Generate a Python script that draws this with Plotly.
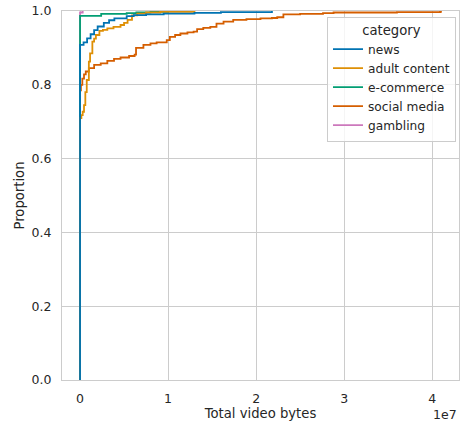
import plotly.graph_objects as go

# Empirical CDF of total video bytes per site category.
# Each list pairs a byte value with the cumulative proportion reached there.
news_bytes = [0, 0, 0.04e7, 0.08e7, 0.12e7, 0.16e7, 0.20e7, 0.27e7, 0.33e7, 0.39e7,
              0.53e7, 0.61e7, 0.75e7, 0.95e7, 1.3e7, 1.6e7, 2.18e7]
news_prop = [0, 0.908, 0.915, 0.926, 0.937, 0.948, 0.958, 0.968, 0.975, 0.980,
             0.986, 0.989, 0.991, 0.993, 0.995, 0.997, 1.0]

adult_bytes = [0, 0, 0.015e7, 0.03e7, 0.045e7, 0.06e7, 0.076e7, 0.10e7, 0.114e7, 0.14e7,
               0.16e7, 0.18e7, 0.22e7, 0.26e7, 0.31e7, 0.38e7, 0.46e7, 0.50e7, 0.54e7,
               0.59e7, 0.65e7, 0.75e7, 0.91e7, 1.3e7]
adult_prop = [0, 0.71, 0.718, 0.727, 0.745, 0.78, 0.813, 0.863, 0.885, 0.917,
              0.925, 0.935, 0.946, 0.949, 0.953, 0.957, 0.962, 0.968, 0.976,
              0.988, 0.993, 0.996, 0.998, 1.0]

ecommerce_bytes = [0, 0, 0.24e7, 0.53e7, 0.64e7, 0.8e7, 1.0e7]
ecommerce_prop = [0, 0.987, 0.992, 0.994, 0.996, 0.998, 1.0]

social_bytes = [0, 0, 0.01e7, 0.026e7, 0.045e7, 0.065e7, 0.10e7, 0.16e7, 0.235e7, 0.31e7,
                0.386e7, 0.46e7, 0.557e7, 0.62e7, 0.636e7, 0.72e7, 0.80e7, 0.87e7, 0.985e7,
                1.02e7, 1.08e7, 1.14e7, 1.22e7, 1.29e7, 1.33e7, 1.40e7, 1.48e7, 1.55e7,
                1.63e7, 1.74e7, 1.89e7, 2.05e7, 2.18e7, 2.24e7, 2.31e7, 2.5e7, 2.76e7,
                2.88e7, 3.6e7, 4.09e7, 4.10e7]
social_prop = [0, 0.785, 0.80, 0.817, 0.828, 0.836, 0.845, 0.854, 0.858, 0.865,
               0.870, 0.874, 0.878, 0.882, 0.900, 0.908, 0.912, 0.915, 0.921,
               0.930, 0.935, 0.939, 0.942, 0.944, 0.951, 0.954, 0.957, 0.966,
               0.971, 0.976, 0.978, 0.980, 0.981, 0.983, 0.991, 0.992, 0.994,
               0.996, 0.997, 0.998, 1.0]

gambling_bytes = [0, 0, 0.03e7]
gambling_prop = [0, 0.996, 1.0]

categories = ["news", "adult content", "e-commerce", "social media", "gambling"]
series = {
    "news": (news_bytes, news_prop),
    "adult content": (adult_bytes, adult_prop),
    "e-commerce": (ecommerce_bytes, ecommerce_prop),
    "social media": (social_bytes, social_prop),
    "gambling": (gambling_bytes, gambling_prop),
}
colors = {
    "news": "#0173b2",
    "adult content": "#de8f05",
    "e-commerce": "#029e73",
    "social media": "#d55e00",
    "gambling": "#cc78bc",
}

x_ticks = [0, 1e7, 2e7, 3e7, 4e7]
x_tick_text = ["0", "1", "2", "3", "4"]
y_ticks = [0.0, 0.2, 0.4, 0.6, 0.8, 1.0]
y_tick_text = ["0.0", "0.2", "0.4", "0.6", "0.8", "1.0"]

TEXT = "#262626"
GRID = "#cccccc"
FONT = "DejaVu Sans"

fig = go.Figure()
# Later categories go underneath, so add them first; legend order is reversed back.
for name in reversed(categories):
    xs, ys = series[name]
    fig.add_trace(go.Scatter(
        x=xs, y=ys, mode="lines", name=name,
        line=dict(color=colors[name], width=1.8, shape="hv"),
    ))

fig.update_layout(
    width=460, height=425,
    margin=dict(l=62, r=1, t=11, b=45),
    paper_bgcolor="white", plot_bgcolor="white",
    font=dict(family=FONT, size=12.5, color=TEXT),
    showlegend=True,
    legend=dict(
        traceorder="reversed",
        title=dict(text="category", font=dict(size=13.2, color=TEXT), side="top center"),
        font=dict(size=12.2, color=TEXT),
        x=0.6675, xanchor="left", y=0.985, yanchor="top",
        bgcolor="rgba(255,255,255,0.8)", bordercolor=GRID, borderwidth=1,
        itemwidth=30, tracegroupgap=0,
    ),
    xaxis=dict(
        range=[-0.205e7, 4.305e7],
        tickvals=x_ticks, ticktext=x_tick_text,
        showgrid=True, gridcolor=GRID, gridwidth=1,
        zeroline=False, showline=True, linecolor=GRID, linewidth=1, mirror=True,
        ticks="outside", ticklen=7, tickcolor="rgba(0,0,0,0)",
        title=dict(text="Total video bytes", font=dict(size=13.2, color=TEXT), standoff=3),
    ),
    yaxis=dict(
        range=[0, 1],
        tickvals=y_ticks, ticktext=y_tick_text,
        showgrid=True, gridcolor=GRID, gridwidth=1,
        zeroline=False, showline=True, linecolor=GRID, linewidth=1, mirror=True,
        ticks="outside", ticklen=7, tickcolor="rgba(0,0,0,0)",
        title=dict(text="Proportion", font=dict(size=13.2, color=TEXT), standoff=3),
    ),
    annotations=[dict(
        text="1e7", xref="paper", yref="paper", x=1.0, y=-0.068,
        xanchor="right", yanchor="top", showarrow=False,
        font=dict(size=12.5, color=TEXT),
    )],
)

fig.write_html("out.html")
